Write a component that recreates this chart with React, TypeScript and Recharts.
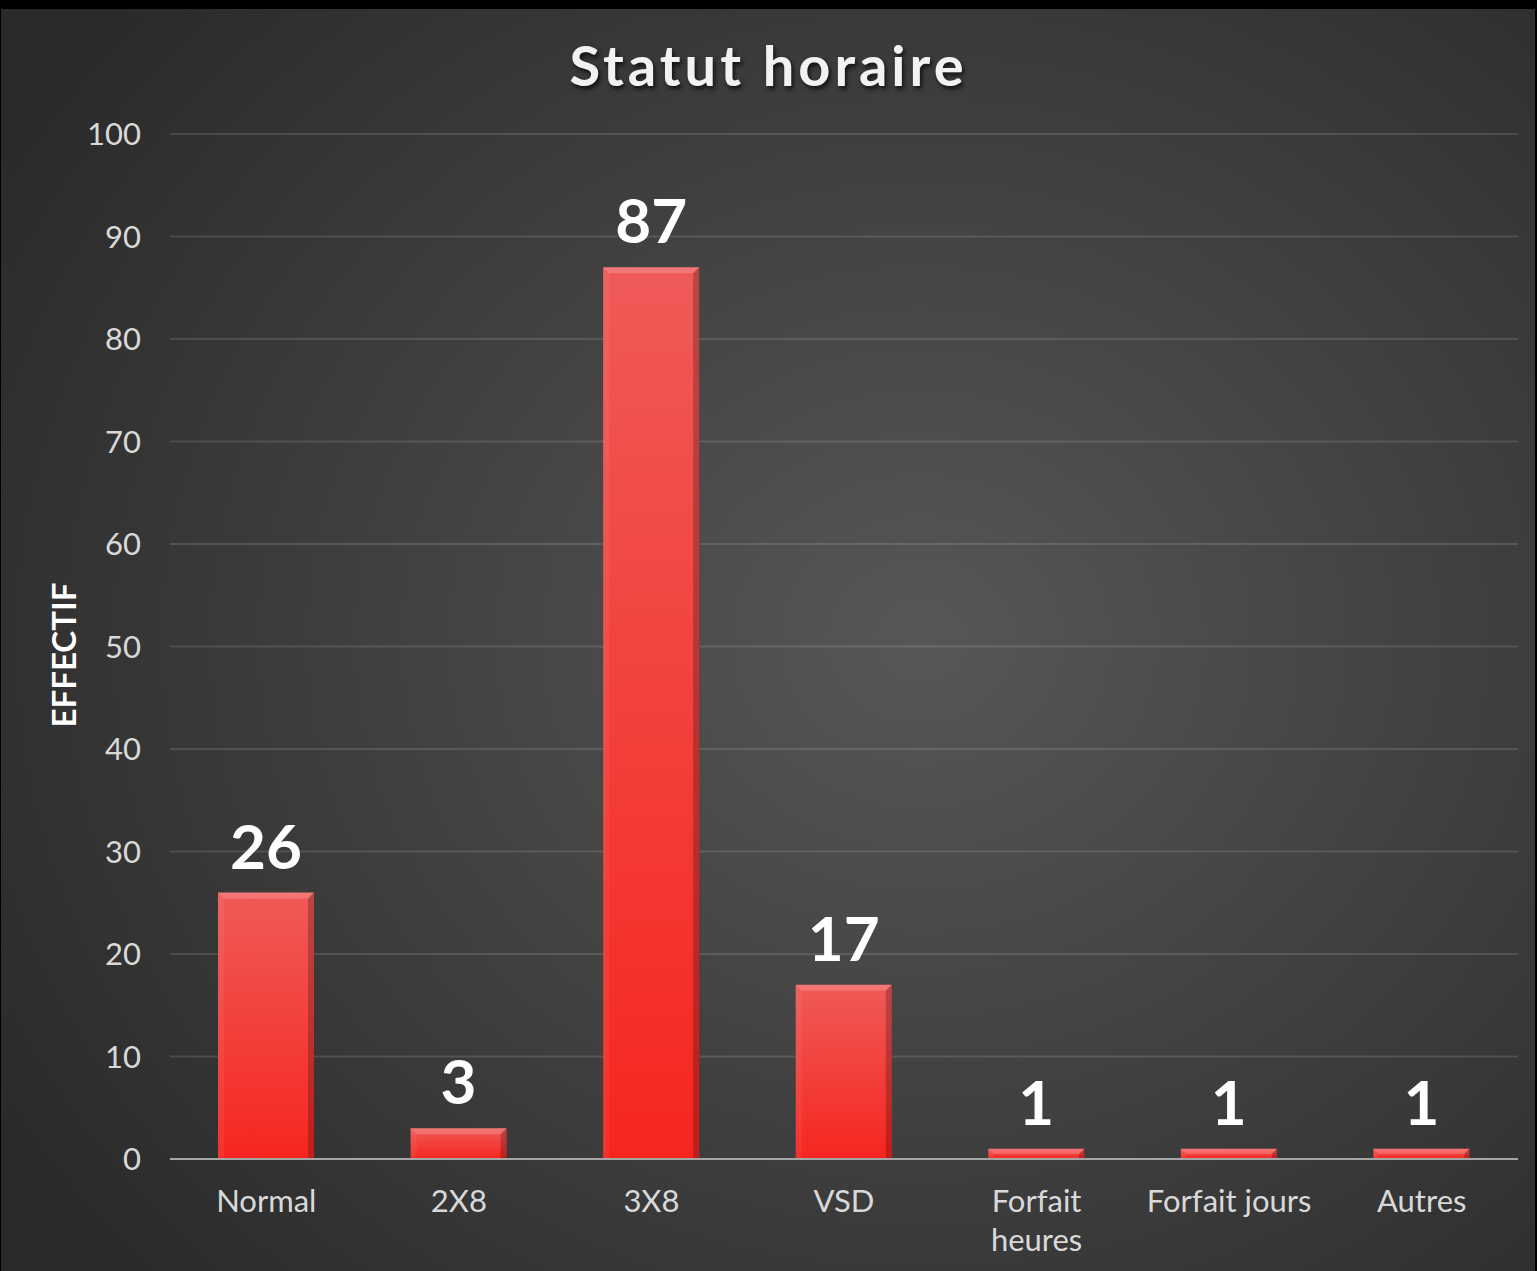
import { BarChart, Bar, XAxis, YAxis, CartesianGrid, LabelList } from "recharts";

const categories = ["Normal", "2X8", "3X8", "VSD", "Forfait heures", "Forfait jours", "Autres"];
const effectif = [26, 3, 87, 17, 1, 1, 1];
const yTicks = [0, 10, 20, 30, 40, 50, 60, 70, 80, 90, 100];

const data = categories.map((name, i) => ({ name, value: effectif[i] }));

const FONT = "Lato, 'Open Sans', sans-serif";

// bar with a light bevel on top and darker right edge
const BevelBar = (props: any) => {
  const { x, y, width, height } = props;
  if (!height || height <= 0) return null;
  const b = Math.min(6, height / 2);
  return (
    <g>
      <rect x={x} y={y} width={width} height={height} fill="url(#barGrad)" />
      <polygon points={`${x},${y} ${x + width},${y} ${x + width - b},${y + b} ${x + b},${y + b}`} fill="rgba(255,255,255,0.18)" />
      <polygon points={`${x + width},${y} ${x + width},${y + height} ${x + width - b},${y + height} ${x + width - b},${y + b}`} fill="rgba(0,0,0,0.22)" />
      <polygon points={`${x},${y} ${x + b},${y + b} ${x + b},${y + height} ${x},${y + height}`} fill="rgba(255,255,255,0.06)" />
    </g>
  );
};

const XTick = (props: any) => {
  const { x, y, payload } = props;
  const words: string[] = payload.value === "Forfait heures" ? ["Forfait", "heures"] : [payload.value];
  return (
    <text x={x} y={y} textAnchor="middle" fill="#d9d9d9" fontFamily={FONT} fontSize={31}>
      {words.map((w, i) => (
        <tspan key={i} x={x} dy={i === 0 ? 45 : 39}>{w}</tspan>
      ))}
    </text>
  );
};

export default function App() {
  return (
    <div style={{ position: "absolute", left: 0, top: 0, width: 1537, height: 1271, background: "#000" }}>
      <div
        style={{
          position: "absolute", left: 1, top: 9, width: 1534, height: 1262,
          background: "radial-gradient(ellipse 70% 75% at 60% 50%, #575757 0%, #3e3e3e 55%, #2a2a2a 100%)",
        }}
      />
      <div
        style={{
          position: "absolute", left: 0, top: 30, width: 1537, textAlign: "center",
          color: "#f2f2f2", fontFamily: FONT, fontWeight: 700, fontSize: 56, letterSpacing: 4,
          textShadow: "2px 3px 4px rgba(0,0,0,0.7)", lineHeight: "70px",
        }}
      >
        Statut horaire
      </div>
      <div
        style={{
          position: "absolute", left: 63, top: 655, transform: "translate(-50%, -50%) rotate(-90deg)",
          color: "#ffffff", fontFamily: FONT, fontWeight: 700, fontSize: 33, whiteSpace: "nowrap",
        }}
      >
        EFFECTIF
      </div>
      <div style={{ position: "absolute", left: 0, top: 0 }}>
        <BarChart width={1537} height={1271} data={data} margin={{ top: 134, right: 19, left: 0, bottom: 0 }}>
          <defs>
            <linearGradient id="barGrad" x1="0" y1="0" x2="0" y2="1">
              <stop offset="0%" stopColor="#ef5a58" />
              <stop offset="100%" stopColor="#f6261f" />
            </linearGradient>
          </defs>
          <CartesianGrid vertical={false} stroke="rgba(255,255,255,0.12)" strokeWidth={2} />
          <XAxis
            dataKey="name"
            height={112}
            tick={<XTick />}
            tickLine={false}
            axisLine={{ stroke: "#a6a6a6", strokeWidth: 2 }}
            interval={0}
          />
          <YAxis
            width={170}
            domain={[0, 100]}
            ticks={yTicks}
            tickLine={false}
            axisLine={false}
            tickSize={0}
            tickMargin={29}
            tick={{ fill: "#d9d9d9", fontFamily: FONT, fontSize: 31 }}
          />
          <Bar dataKey="value" barSize={96} shape={<BevelBar />} isAnimationActive={false}>
            <LabelList
              dataKey="value"
              position="top"
              offset={24}
              fill="#ffffff"
              fontFamily={FONT}
              fontWeight={700}
              fontSize={62}
            />
          </Bar>
        </BarChart>
      </div>
    </div>
  );
}
